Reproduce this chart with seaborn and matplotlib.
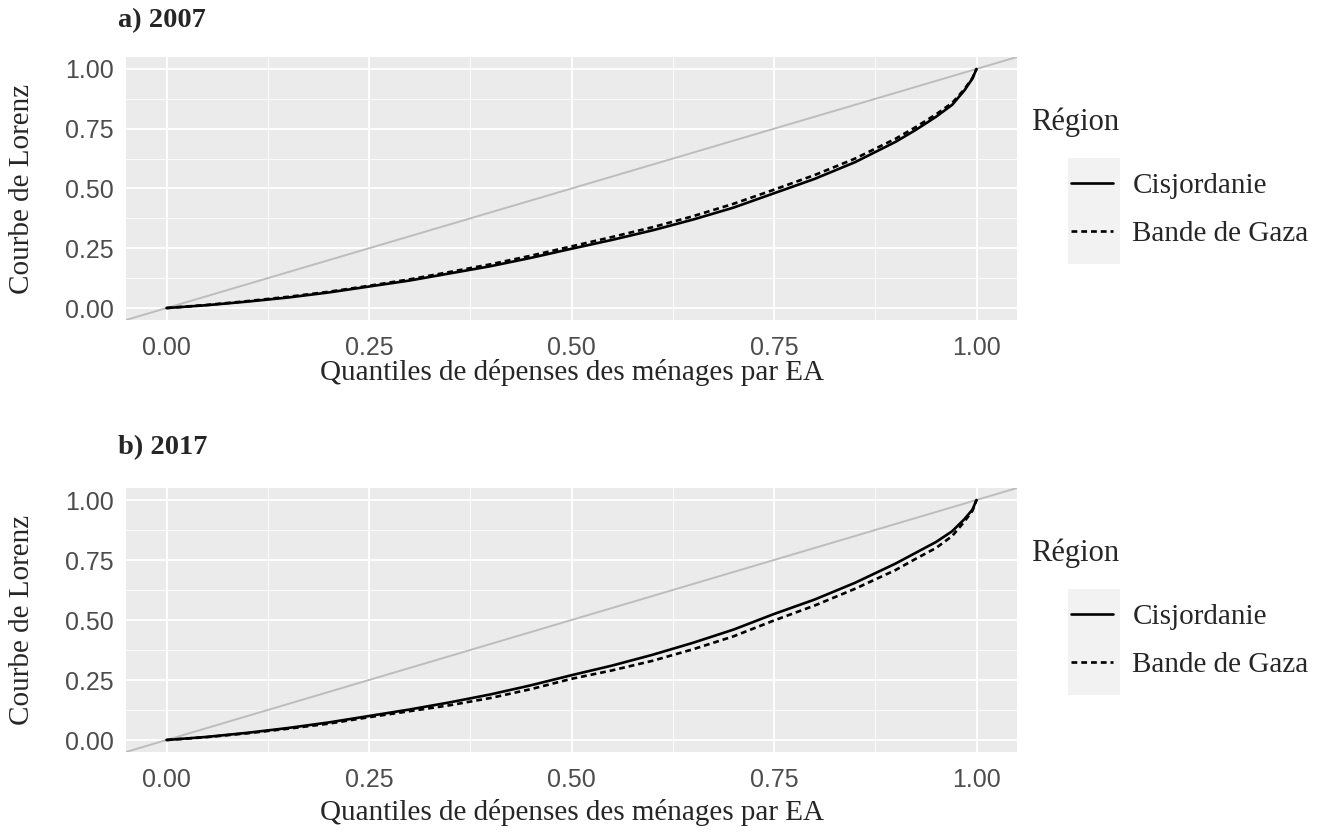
import pandas as pd
import matplotlib
matplotlib.use("Agg")
import matplotlib.pyplot as plt
from matplotlib.patches import Rectangle
import seaborn as sns

# quantiles (share of households) and Lorenz curve values
quantiles = [0, 0.05, 0.1, 0.15, 0.2, 0.25, 0.3, 0.35, 0.4, 0.45, 0.5, 0.55, 0.6,
             0.65, 0.7, 0.75, 0.8, 0.85, 0.9, 0.925, 0.95, 0.97, 0.985, 0.995, 1.0]
cisjordanie_2007 = [0, 0.012, 0.027, 0.044, 0.065, 0.09, 0.115, 0.145, 0.175, 0.21, 0.248,
                    0.285, 0.325, 0.37, 0.42, 0.48, 0.54, 0.61, 0.695, 0.745, 0.80, 0.85,
                    0.91, 0.96, 1.0]
gaza_2007 = [0, 0.013, 0.029, 0.047, 0.068, 0.093, 0.12, 0.151, 0.183, 0.219, 0.258,
             0.297, 0.338, 0.384, 0.436, 0.495, 0.556, 0.625, 0.708, 0.757, 0.81, 0.858,
             0.915, 0.962, 1.0]
cisjordanie_2017 = [0, 0.013, 0.03, 0.05, 0.073, 0.10, 0.127, 0.157, 0.19, 0.228, 0.27,
                    0.31, 0.355, 0.405, 0.46, 0.525, 0.585, 0.655, 0.735, 0.78, 0.825, 0.87,
                    0.92, 0.96, 1.0]
gaza_2017 = [0, 0.012, 0.028, 0.047, 0.068, 0.095, 0.12, 0.145, 0.175, 0.212, 0.255,
             0.29, 0.33, 0.378, 0.432, 0.498, 0.56, 0.63, 0.708, 0.755, 0.80, 0.85,
             0.91, 0.955, 1.0]

regions = ["Cisjordanie", "Bande de Gaza"]
panel_titles = ["a) 2007", "b) 2017"]
tick_values = [0, 0.25, 0.5, 0.75, 1.0]
tick_labels = ["0.00", "0.25", "0.50", "0.75", "1.00"]
minor_values = [0.125, 0.375, 0.625, 0.875]

sns.set_theme(style="darkgrid", rc={
    "axes.facecolor": "#EBEBEB",
    "axes.edgecolor": "none",
    "grid.color": "white",
    "figure.facecolor": "white",
})
plt.rcParams["font.family"] = ["Liberation Serif", "DejaVu Serif"]

fig = plt.figure(figsize=(13.33, 8.32), dpi=100)
W, H = 1333, 832


def px_axes(left, top, right, bottom):
    return fig.add_axes([left / W, 1 - bottom / H, (right - left) / W, (bottom - top) / H])


# axes, data, title y, xlabel y (pixels from top)
panels = [
    (px_axes(126, 57, 1017, 320), cisjordanie_2007, gaza_2007, 21, 372),
    (px_axes(126, 488, 1017, 752), cisjordanie_2017, gaza_2017, 448, 813),
]

for i, (ax, cis, gaza, title_y, xlab_y) in enumerate(panels):
    n = len(quantiles)
    df = pd.DataFrame({
        "p": quantiles + quantiles,
        "L": cis + gaza,
        "Région": [regions[0]] * n + [regions[1]] * n,
    })
    ax.axline((0, 0), slope=1, color="#BDBDBD", lw=1.4, zorder=2)
    sns.lineplot(data=df, x="p", y="L", style="Région", color="black",
                 dashes={regions[0]: "", regions[1]: (2.2, 1.5)},
                 lw=1.9, errorbar=None, ax=ax, zorder=3)

    ax.set_xlim(-0.05, 1.05)
    ax.set_ylim(-0.05, 1.05)
    ax.set_xticks(tick_values, tick_labels)
    ax.set_yticks(tick_values, tick_labels)
    ax.set_xticks(minor_values, minor=True)
    ax.set_yticks(minor_values, minor=True)
    ax.grid(which="major", color="white", lw=1.3)
    ax.grid(which="minor", color="white", lw=0.6)
    ax.tick_params(which="major", length=5, width=1.2, color="#333333",
                   labelcolor="#4D4D4D", labelsize=18)
    ax.tick_params(axis="x", pad=6.5)
    ax.tick_params(axis="y", pad=4)
    ax.tick_params(which="minor", length=0)
    for lab in ax.get_xticklabels() + ax.get_yticklabels():
        lab.set_family("Liberation Sans")

    ax.set_xlabel("Quantiles de dépenses des ménages par EA", fontsize=21)
    ax.set_ylabel("Courbe de Lorenz", fontsize=21)
    ax.xaxis.label.set_va("center")
    ax.yaxis.label.set_va("center")
    bottom_px = H * (1 - ax.get_position().y0)
    height_px = H * ax.get_position().height
    top_px = bottom_px - height_px
    ax.xaxis.set_label_coords(0.5, (bottom_px - xlab_y) / height_px)
    ax.yaxis.set_label_coords((22 - 126) / 891, 0.5)

    fig.text(118 / W, 1 - title_y / H, panel_titles[i], fontsize=20.5,
             fontweight="bold", va="center", ha="left")

    # legend: title, key background and entries
    handles, labels = ax.get_legend_handles_labels()
    ax.get_legend().remove()
    fig.text(1031 / W, 1 - (top_px + 65) / H, "Région", fontsize=22, va="center", ha="left")
    fig.patches.append(Rectangle((1068 / W, 1 - (top_px + 207) / H), 52 / W, 106 / H,
                                 transform=fig.transFigure, facecolor="#F2F2F2",
                                 edgecolor="none", zorder=-1))
    leg = ax.legend(handles, labels, loc="center left",
                    bbox_to_anchor=(1071 / W, 1 - (top_px + 153) / H),
                    bbox_transform=fig.transFigure, frameon=False, fontsize=21,
                    handlelength=1.45, handletextpad=0.65, labelspacing=0.75,
                    borderpad=0, borderaxespad=0)
    for line in leg.get_lines():
        line.set_linewidth(1.9)
        line.set_color("black")

fig.savefig("out.png", dpi=100)
